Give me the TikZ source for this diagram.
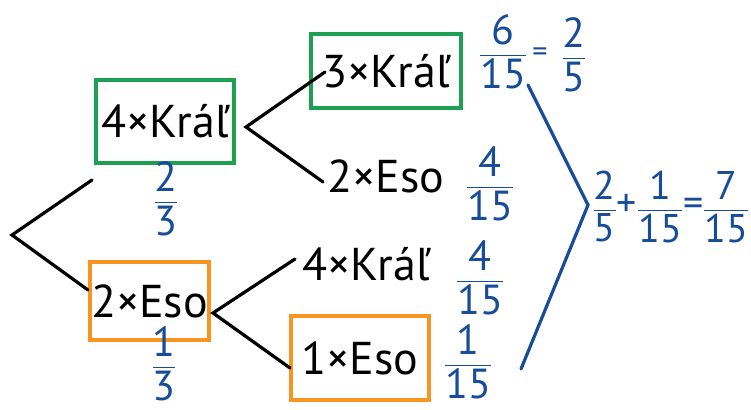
\documentclass[tikz,border=0pt]{standalone}
\usepackage{amsmath}
\usepackage{fontspec}
\setmainfont{PT Sans}
\definecolor{boxgreen}{RGB}{30,160,82}
\definecolor{boxorange}{RGB}{248,148,32}
\definecolor{penblue}{RGB}{24,76,152}
% fraction written in the text font
\newcommand{\fr}[2]{\ensuremath{\displaystyle\frac{\text{#1}}{\text{#2}}}}

\begin{document}
\begin{tikzpicture}[x=1pt,y=-1pt,line width=3.2pt,line cap=round,
		word/.style={font=\fontsize{46}{46}\selectfont,inner sep=0pt},
		card/.style={word,draw=#1,line width=3.2pt},
		prob/.style={text=penblue,font=\fontsize{42}{42}\selectfont,inner sep=0pt}]
		\useasboundingbox (0,0) rectangle (751,409);
		% first draw
		\node[card=boxgreen,minimum width=138,minimum height=83] (kral) at (165,121.5) {4×Kráľ};
		\node[card=boxorange,minimum width=119,minimum height=78] (eso) at (149.5,301) {2×Eso};
		\coordinate (root) at (12,235);
		\coordinate (up) at (92,180);
		\coordinate (down) at (88,290);
		\draw (up) -- (root) -- (down);
		\node[prob] (pk) at (166,199) {\fr{2}{3}};
		\node[prob] (pe) at (164,364) {\fr{1}{3}};
		% second draw after a king
		\node[card=boxgreen,minimum width=150,minimum height=74] (kk) at (386,71) {3×Kráľ};
		\node[word] (ke) at (386,176) {2×Eso};
		\coordinate (kfork) at (246,127);
		\coordinate (kup) at (325,72);
		\coordinate (kdown) at (323,182);
		\draw (kup) -- (kfork) -- (kdown);
		% second draw after an ace
		\node[word] (ek) at (366,264) {4×Kráľ};
		\node[card=boxorange,minimum width=138,minimum height=84] (ee) at (360,358) {1×Eso};
		\coordinate (efork) at (213,313);
		\coordinate (eup) at (295,259);
		\coordinate (edown) at (290,368);
		\draw (eup) -- (efork) -- (edown);
		% path probabilities
		\node[prob] (pkk) at (503,52) {\fr{6}{15}};
		\node[prob,font=\fontsize{30}{30}\selectfont] (eq) at (540,55) {=};
		\node[prob] (pkk2) at (574,55) {\fr{2}{5}};
		\node[prob] (pke) at (490,184) {\fr{4}{15}};
		\node[prob] (pek) at (480,278) {\fr{4}{15}};
		\node[prob] (pee) at (468,362) {\fr{1}{15}};
		\coordinate (btop) at (528,85);
		\coordinate (bmid) at (588,205);
		\coordinate (bbot) at (521,369);
		\draw[penblue] (btop) -- (bmid) -- (bbot);
		\node[prob,anchor=west,font=\fontsize{40}{40}\selectfont] (sum) at (591,207) {\fr{2}{5}+\fr{1}{15}=\fr{7}{15}};
\end{tikzpicture}
\end{document}
